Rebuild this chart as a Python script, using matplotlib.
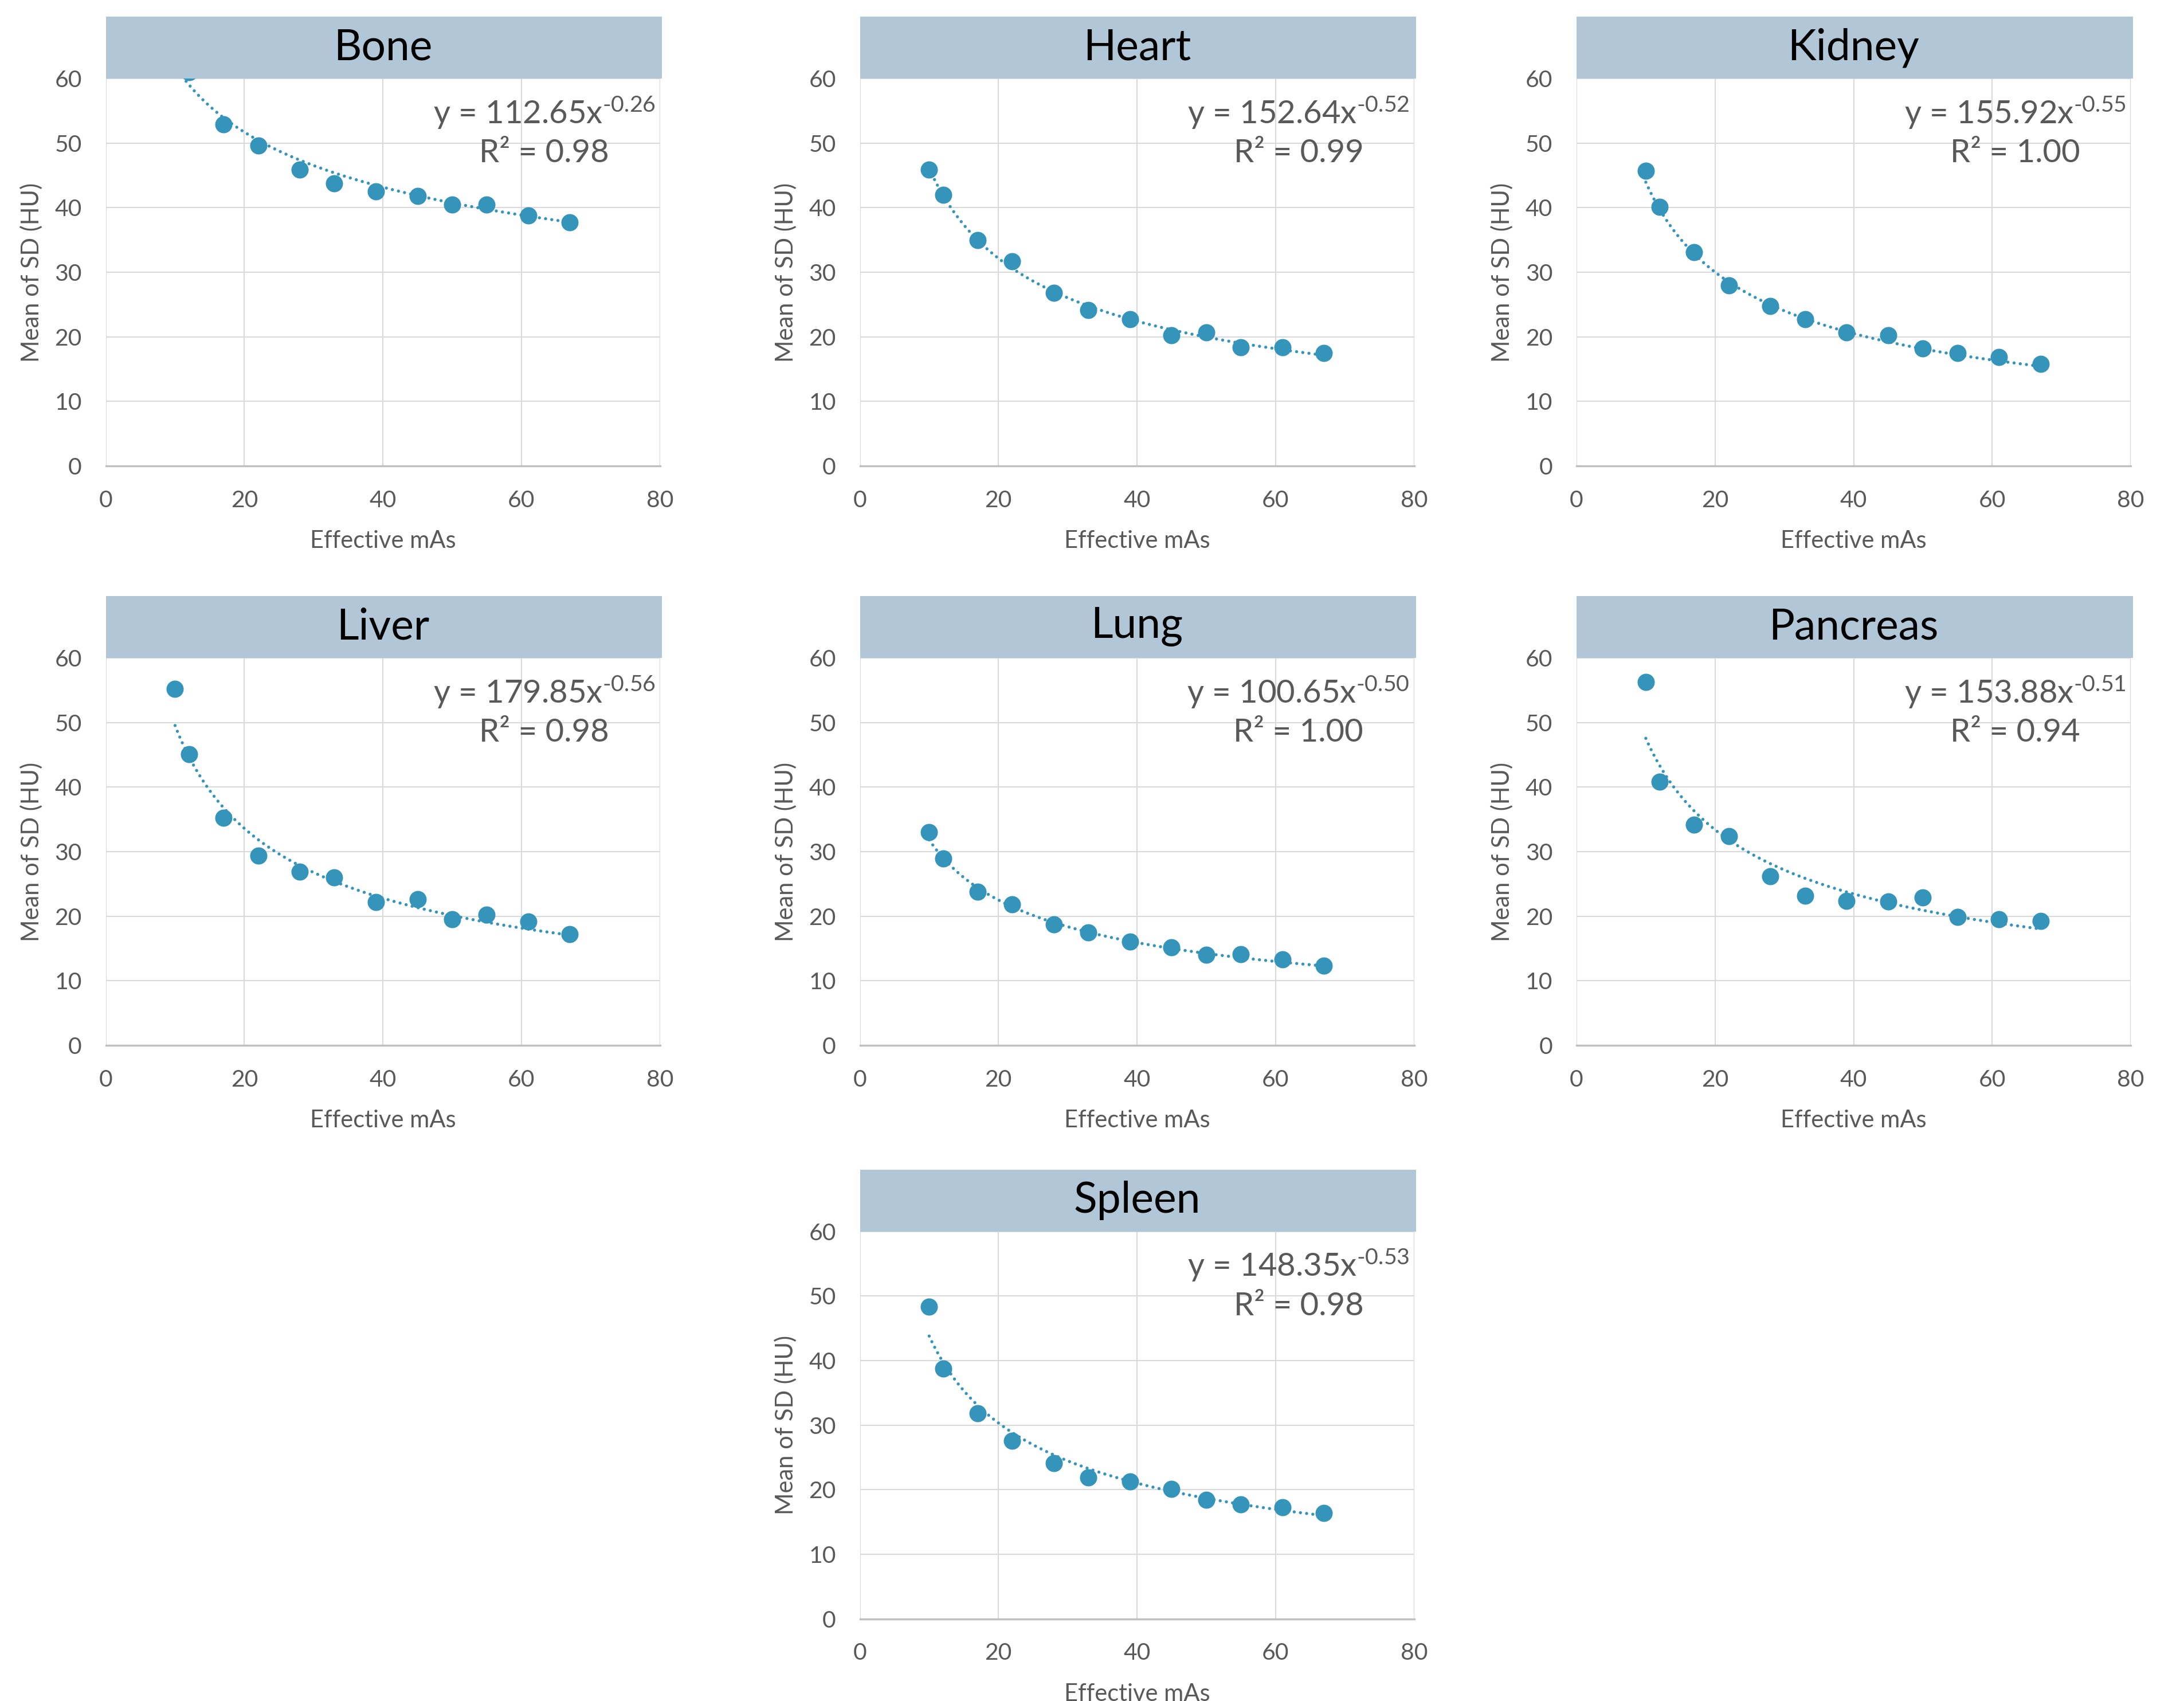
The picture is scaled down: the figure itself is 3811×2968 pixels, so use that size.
import numpy as np
import matplotlib
matplotlib.use("Agg")
from matplotlib import pyplot as plt
from matplotlib.patches import Rectangle

# x values (effective mAs)
mas = [10, 12, 17, 22, 28, 33, 39, 45, 50, 55, 61, 67]

# mean of SD (HU); bone 10/12 lie above the axis
bone = [64.0, 61.0, 52.9, 49.6, 45.9, 43.8, 42.5, 41.8, 40.5, 40.5, 38.8, 37.7]
heart = [45.9, 42.0, 35.0, 31.7, 26.8, 24.1, 22.7, 20.2, 20.7, 18.4, 18.4, 17.5]
kidney = [45.7, 40.1, 33.1, 28.0, 24.8, 22.7, 20.7, 20.2, 18.2, 17.5, 16.9, 15.8]
liver = [55.2, 45.1, 35.2, 29.4, 26.9, 26.0, 22.2, 22.6, 19.5, 20.2, 19.2, 17.2]
lung = [33.0, 28.9, 23.8, 21.8, 18.7, 17.5, 16.1, 15.2, 14.0, 14.1, 13.3, 12.3]
pancreas = [56.3, 40.8, 34.2, 32.4, 26.2, 23.2, 22.4, 22.3, 22.9, 19.9, 19.5, 19.3]
spleen = [48.3, 38.7, 31.8, 27.6, 24.1, 21.9, 21.3, 20.1, 18.4, 17.7, 17.3, 16.4]

organs = ["Bone", "Heart", "Kidney", "Liver", "Lung", "Pancreas", "Spleen"]
series = [bone, heart, kidney, liver, lung, pancreas, spleen]
# power trendline y = a * x^b, and R^2 as printed
coef_a = [112.65, 152.64, 155.92, 179.85, 100.65, 153.88, 148.35]
coef_b = [-0.26, -0.52, -0.55, -0.56, -0.50, -0.51, -0.53]
r2 = [0.98, 0.99, 1.00, 0.98, 1.00, 0.94, 0.98]

BLUE = "#3494BA"
BANNER = "#B1C6D7"
GREY = "#595959"

plt.rcParams["font.family"] = ["Lato", "DejaVu Sans"]
plt.rcParams["mathtext.fontset"] = "custom"
plt.rcParams["mathtext.rm"] = "Lato"
plt.rcParams["mathtext.default"] = "regular"

W, H = 3811, 2968
fig = plt.figure(figsize=(W / 300, H / 300), dpi=300)

lefts = [184.6, 1500.5, 2751.0]
bottoms = [813, 1824, 2824.5]
aw, ah = 967, 676
slots = [(0, 0), (1, 0), (2, 0), (0, 1), (1, 1), (2, 1), (1, 2)]

for name, y, a, b, r, (c, rw) in zip(organs, series, coef_a, coef_b, r2, slots):
    ax = fig.add_axes([lefts[c] / W, 1 - bottoms[rw] / H, aw / W, ah / H])
    ax.set_xlim(0, 80)
    ax.set_ylim(0, 60)
    ax.set_xticks([0, 20, 40, 60, 80])
    ax.set_yticks([0, 10, 20, 30, 40, 50, 60])
    ax.grid(True, color="#D9D9D9", linewidth=0.5)
    ax.set_axisbelow(True)
    for s in ["left", "right", "top"]:
        ax.spines[s].set_visible(False)
    ax.spines["bottom"].set_color("#BFBFBF")
    ax.spines["bottom"].set_linewidth(0.8)
    ax.tick_params(length=0, pad=10, labelsize=9.8, labelcolor=GREY)

    xf = np.linspace(min(mas), max(mas), 300)
    ax.plot(xf, a * xf ** b, color=BLUE, linewidth=1.3,
            linestyle=(0, (0.01, 2.0)), dash_capstyle="round", zorder=2)
    ax.plot(mas, y, "o", color=BLUE, markersize=7.2, markeredgewidth=0, zorder=3)

    ax.set_xlabel("Effective mAs", fontsize=10, color=GREY, labelpad=8)
    ax.set_ylabel("Mean of SD (HU)", fontsize=10, color=GREY, labelpad=5)

    exp_txt = f"{b:.2f}".replace("-", "\u2010")
    ax.text(0.992, 0.958, f"y = {a:.2f}x$^{{{exp_txt}}}$\nR² = {r:.2f}",
            transform=ax.transAxes, ha="right", va="top", ma="center",
            fontsize=13.5, color=GREY, linespacing=1.35)

    bh = 108 / ah
    ax.add_patch(Rectangle((0, 1), 1.004, bh, transform=ax.transAxes,
                           facecolor=BANNER, edgecolor="none", clip_on=False, zorder=5))
    ax.text(0.5, 1 + bh / 2, name, transform=ax.transAxes, ha="center",
            va="center", fontsize=18, color="black", zorder=6)

fig.savefig("out.png", dpi=300)
